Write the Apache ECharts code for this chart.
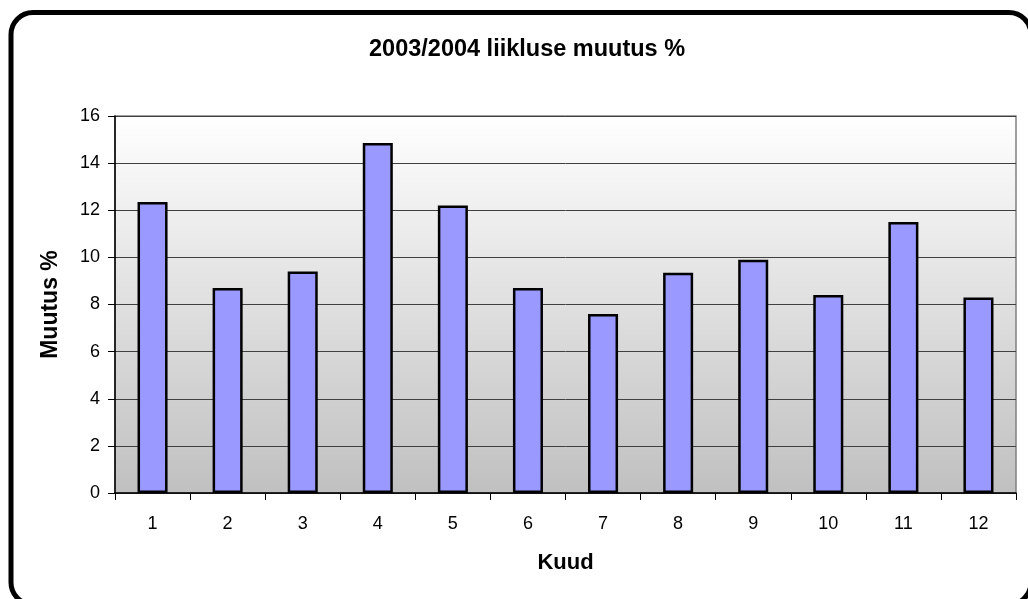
<!DOCTYPE html>
<html>
<head>
<meta charset="utf-8">
<script src="https://cdn.jsdelivr.net/npm/echarts@6/dist/echarts.min.js"></script>
<style>
html,body{margin:0;padding:0;background:#fff;}
#chart{width:1028px;height:599px;}
</style>
</head>
<body>
<div id="chart"></div>
<script>
const titleText = '2003/2004 liikluse muutus %';
const xAxisName = 'Kuud';
const yAxisName = 'Muutus %';
const months = ['1','2','3','4','5','6','7','8','9','10','11','12'];
const changePct = [12.35, 8.7, 9.4, 14.85, 12.2, 8.7, 7.6, 9.35, 9.9, 8.4, 11.5, 8.3];
const yMin = 0, yMax = 16, yStep = 2;

const FONT = '"Liberation Sans", Arial, sans-serif';
const chart = echarts.init(document.getElementById('chart'), null, {renderer: 'canvas'});
chart.setOption({
  animation: false,
  backgroundColor: '#ffffff',
  title: {
    text: titleText,
    left: 364,
    top: 33,
    textStyle: {fontFamily: FONT, fontSize: 23.5, fontWeight: 'bold', color: '#000'}
  },
  graphic: [{
    type: 'rect',
    shape: {x: 11, y: 12.5, width: 1020, height: 592, r: 22},
    style: {fill: 'none', stroke: '#000', lineWidth: 5},
    silent: true,
    z: 100
  }],
  grid: {
    left: 115, right: 12, top: 116, bottom: 106,
    show: true,
    borderColor: '#808080',
    borderWidth: 1.5,
    backgroundColor: {
      type: 'linear', x: 0, y: 0, x2: 0, y2: 1,
      colorStops: [{offset: 0, color: '#ffffff'}, {offset: 1, color: '#c0c0c0'}]
    }
  },
  xAxis: {
    type: 'category',
    data: months,
    name: xAxisName,
    nameLocation: 'middle',
    nameGap: 59,
    nameTextStyle: {fontFamily: FONT, fontSize: 22, fontWeight: 'bold', color: '#000'},
    axisLine: {lineStyle: {color: '#000', width: 1.5}},
    axisTick: {show: true, alignWithLabel: false, length: 7, lineStyle: {color: '#000'}},
    axisLabel: {fontFamily: FONT, fontSize: 18, color: '#000', margin: 22},
    splitLine: {show: false}
  },
  yAxis: {
    type: 'value',
    min: yMin, max: yMax, interval: yStep,
    name: yAxisName,
    nameLocation: 'middle',
    nameGap: 53,
    nameTextStyle: {fontFamily: FONT, fontSize: 23, fontWeight: 'bold', color: '#000'},
    axisLine: {show: true, lineStyle: {color: '#000', width: 1.5}},
    axisTick: {show: true, length: 7, lineStyle: {color: '#000'}},
    axisLabel: {fontFamily: FONT, fontSize: 18, color: '#000', margin: 15},
    splitLine: {show: true, lineStyle: {color: '#404040', width: 1}}
  },
  series: [{
    type: 'bar',
    data: changePct,
    barWidth: '40%',
    itemStyle: {color: '#9999ff', borderColor: '#000', borderWidth: 2.5}
  }]
});
</script>
</body>
</html>
